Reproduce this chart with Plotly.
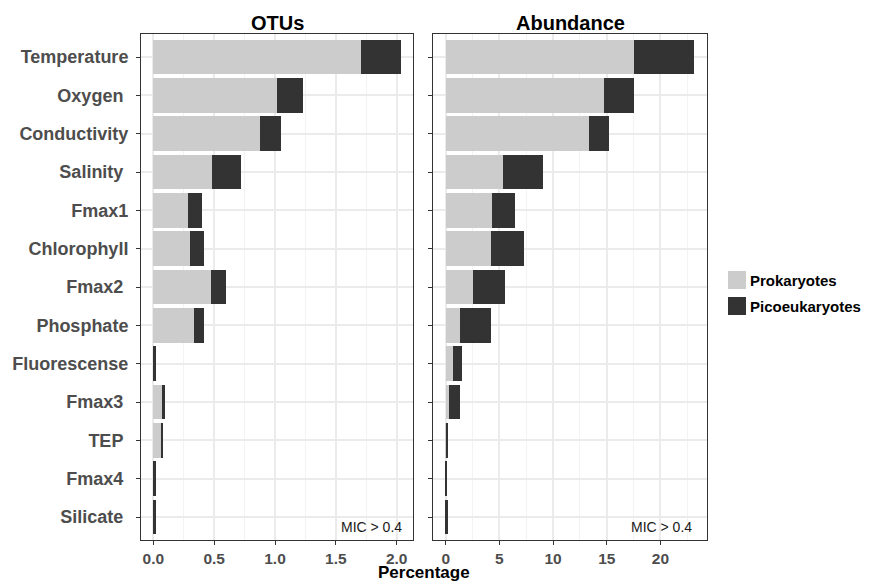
import plotly.graph_objects as go
from plotly.subplots import make_subplots

# variables, top to bottom
variables = ['Temperature', 'Oxygen\u00a0', 'Conductivity', 'Salinity\u00a0', 'Fmax1',
             'Chlorophyll', 'Fmax2\u00a0', 'Phosphate', 'Fluorescense', 'Fmax3\u00a0',
             'TEP\u00a0', 'Fmax4\u00a0', 'Silicate\u00a0']

# OTUs panel (percentage)
otu_prok = [1.71, 1.02, 0.88, 0.48, 0.285, 0.30, 0.47, 0.335, 0.0, 0.07, 0.063, 0.0, 0.0]
otu_pico = [0.325, 0.21, 0.17, 0.24, 0.115, 0.115, 0.13, 0.08, 0.02, 0.025, 0.016, 0.02, 0.02]

# Abundance panel (percentage)
abu_prok = [17.55, 14.75, 13.35, 5.35, 4.3, 4.2, 2.55, 1.3, 0.65, 0.3, 0.12, 0.0, 0.0]
abu_pico = [5.6, 2.8, 1.85, 3.7, 2.15, 3.1, 2.95, 2.9, 0.85, 1.0, 0.13, 0.1, 0.18]

series = ['Prokaryotes', 'Picoeukaryotes']
colours = ['#CCCCCC', '#333333']

# page body has an 8px margin, so the figure is a bit smaller than the window
OFF = 8
W, H = 871 - OFF, 584 - OFF
FONT = 'Liberation Sans, Arial, sans-serif'


def px(x):
    return (x - OFF) / W


def py(y):
    return 1 - (y - OFF) / H


fig = make_subplots(rows=1, cols=2, shared_yaxes=True)

panels = [(otu_prok, otu_pico), (abu_prok, abu_pico)]
for col, (prok, pico) in enumerate(panels, start=1):
    for name, vals, c in zip(series, (prok, pico), colours):
        fig.add_trace(go.Bar(y=variables, x=vals, orientation='h', name=name,
                             marker=dict(color=c, line=dict(width=0)), width=0.9,
                             showlegend=False), row=1, col=col)

fig.update_layout(barmode='stack', width=W, height=H,
                  margin=dict(l=0, r=0, t=0, b=0),
                  plot_bgcolor='white', paper_bgcolor='white',
                  font=dict(family=FONT, color='#4D4D4D'))

# x axes with ggplot-style 5% expansion
for i, (prok, pico, dtick, fmt, dom) in enumerate([
        (otu_prok, otu_pico, 0.5, '.1f', [px(141), px(413.3)]),
        (abu_prok, abu_pico, 5, 'd', [px(433.3), px(706.7)])], start=1):
    mx = max(a + b for a, b in zip(prok, pico))
    fig.update_xaxes(range=[-0.05 * mx, mx * 1.05], domain=dom, dtick=dtick, tick0=0,
                     tickformat=fmt, showgrid=True, gridcolor='#EBEBEB', gridwidth=1.5,
                     minor=dict(showgrid=True, dtick=dtick / 2, tick0=0,
                                gridcolor='#F3F3F3', gridwidth=1),
                     showline=True, mirror=True, linecolor='#333333', linewidth=1,
                     ticks='outside', ticklen=4, tickcolor='#333333',
                     tickfont=dict(size=15.5, weight='bold', color='#4D4D4D'),
                     ticklabelstandoff=0,
                     zeroline=False, row=1, col=i)

n = len(variables)
fig.update_yaxes(categoryorder='array', categoryarray=variables,
                 range=[n - 0.4, -0.6], domain=[py(540), py(34)],
                 showgrid=True, gridcolor='#EBEBEB', gridwidth=1.5,
                 showline=True, mirror=True, linecolor='#333333', linewidth=1,
                 ticks='outside', ticklen=4, tickcolor='#333333', zeroline=False)
fig.update_yaxes(tickfont=dict(size=18, weight='bold', color='#4D4D4D'),
                 ticklabelstandoff=4, row=1, col=1)
fig.update_yaxes(showticklabels=False, row=1, col=2)

ann = [
    dict(text='OTUs', x=px(277), y=py(23), font=dict(size=20, weight='bold', color='black')),
    dict(text='Abundance', x=px(570), y=py(23), font=dict(size=20, weight='bold', color='black')),
    dict(text='Percentage', x=px(424), y=py(584), yanchor='bottom',
         font=dict(size=17, weight='bold', color='black')),
    dict(text='MIC > 0.4', x=px(404), y=py(527), xanchor='right',
         font=dict(size=14, color='#1A1A1A')),
    dict(text='MIC > 0.4', x=px(694), y=py(527), xanchor='right',
         font=dict(size=14, color='#1A1A1A')),
]
for a in ann:
    a.setdefault('xanchor', 'center')
    a.setdefault('yanchor', 'middle')
    fig.add_annotation(xref='paper', yref='paper', showarrow=False, **a)

# legend drawn as keys + labels
for k, (name, c) in enumerate(zip(series, colours)):
    y0 = 271 + k * 26
    fig.add_shape(type='rect', xref='paper', yref='paper', x0=px(728), x1=px(746),
                  y0=py(y0 + 18), y1=py(y0), fillcolor=c, line=dict(width=0))
    fig.add_annotation(xref='paper', yref='paper', x=px(748), y=py(y0 + 9),
                       xanchor='left', yanchor='middle', showarrow=False, text=name,
                       font=dict(size=15, weight='bold', color='black'))

fig.write_html("out.html")
